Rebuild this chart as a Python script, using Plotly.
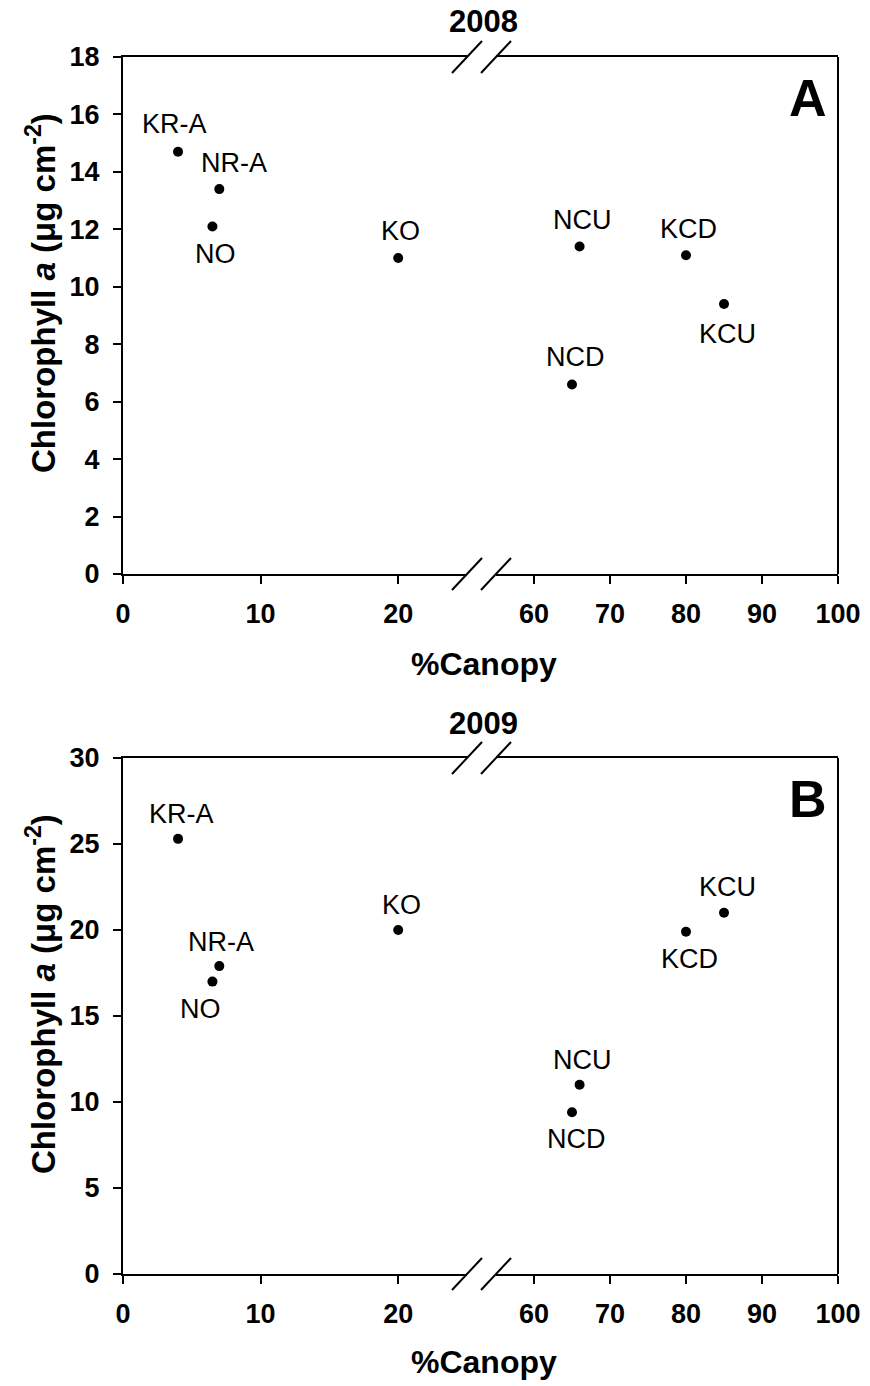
import plotly.graph_objects as go

# ---------------- data ----------------
sites = ["KR-A", "NR-A", "NO", "KO", "NCU", "NCD", "KCD", "KCU"]
canopy = [4, 7, 6.5, 20, 66, 65, 80, 85]
chl_2008 = [14.7, 13.4, 12.1, 11.0, 11.4, 6.6, 11.1, 9.4]
chl_2009 = [25.3, 17.9, 17.0, 20.0, 11.0, 9.4, 19.9, 21.0]
x_ticks_left = [0, 10, 20]
x_ticks_right = [60, 70, 80, 90, 100]

# label offsets (pixels) relative to each point: (dx, dy_up)
lab_off_2008 = [(-4, 28), (15, 26), (3, -28), (2, 27), (3, 27), (3, 27), (2, 26), (3, -30)]
lab_off_2009 = [(3, 25), (2, 24), (-12, -27), (3, 25), (3, 25), (4, -27), (3, -27), (3, 26)]

W, H = 870, 1386
FONT = "Liberation Sans, Arial, sans-serif"


def px(x):
    return x / W


def py(y):
    return 1 - y / H


XL = (123, 467)
XR = (496, 838)
panels = [
    dict(top=57, bot=574, vals=chl_2008, off=lab_off_2008, yr=[0, 18], dt=2,
         title="2008", letter="A", xl="x", xr="x2", y="y", letter_y=98, title_y=22, xt_y=664, yt_y=293),
    dict(top=758, bot=1274, vals=chl_2009, off=lab_off_2009, yr=[0, 30], dt=5,
         title="2009", letter="B", xl="x3", xr="x4", y="y2", letter_y=799, title_y=723, xt_y=1362, yt_y=994),
]

fig = go.Figure()
shapes = []
annotations = []

axis_common = dict(showline=True, linecolor="black", linewidth=2, ticks="outside", ticklen=8,
                   tickwidth=2, tickcolor="black", showgrid=False, zeroline=False, automargin=False,
                   tickfont=dict(family=FONT, size=27, color="black", weight="bold"))

for i, p in enumerate(panels):
    left = [(c, v, s, o) for c, v, s, o in zip(canopy, p["vals"], sites, p["off"]) if c <= 25]
    right = [(c, v, s, o) for c, v, s, o in zip(canopy, p["vals"], sites, p["off"]) if c >= 55]
    for grp, xa in ((left, p["xl"]), (right, p["xr"])):
        fig.add_trace(go.Scatter(x=[g[0] for g in grp], y=[g[1] for g in grp], mode="markers",
                                 marker=dict(color="black", size=10), xaxis=xa, yaxis=p["y"],
                                 showlegend=False, hoverinfo="skip"))
        for c, v, s, o in grp:
            annotations.append(dict(x=c, y=v, xref=xa, yref=p["y"], text=s, showarrow=False,
                                    xanchor="center", yanchor="middle",
                                    xshift=o[0], yshift=o[1],
                                    font=dict(family=FONT, size=27, color="black")))

    ydom = [py(p["bot"]), py(p["top"])]
    n = i * 2
    xl_name = "xaxis" if n == 0 else "xaxis%d" % (n + 1)
    xr_name = "xaxis%d" % (n + 2)
    y_name = "yaxis" if i == 0 else "yaxis2"
    fig.update_layout(**{
        xl_name: dict(domain=[px(XL[0]), px(XL[1])], range=[0, 25], anchor=p["y"], mirror=True,
                      tickvals=x_ticks_left, ticklabelstandoff=7, **axis_common),
        xr_name: dict(domain=[px(XR[0]), px(XR[1])], range=[55, 100], anchor=p["y"], mirror=True,
                      tickvals=x_ticks_right, ticklabelstandoff=7, **axis_common),
        y_name: dict(domain=ydom, range=p["yr"], dtick=p["dt"], anchor=p["xl"],
                     ticklabelstandoff=8, **axis_common),
    })
    # right frame line
    shapes.append(dict(type="line", xref="paper", yref="paper", x0=px(XR[1]), x1=px(XR[1]),
                       y0=py(p["bot"]), y1=py(p["top"]), line=dict(color="black", width=2)))
    # break marks top & bottom
    for yy in (p["top"], p["bot"]):
        for cx in (XL[1], XR[0]):
            shapes.append(dict(type="line", xref="paper", yref="paper",
                               x0=px(cx - 15), y0=py(yy + 16), x1=px(cx + 15), y1=py(yy - 16),
                               line=dict(color="black", width=2)))
    common_ann = dict(xref="paper", yref="paper", showarrow=False, xanchor="center", yanchor="middle")
    annotations.append(dict(x=px(483), y=py(p["title_y"]), text=p["title"],
                            font=dict(family=FONT, size=31, color="black", weight="bold"), **common_ann))
    annotations.append(dict(x=px(808), y=py(p["letter_y"]), text=p["letter"],
                            font=dict(family=FONT, size=52, color="black", weight="bold"), **common_ann))
    annotations.append(dict(x=px(484), y=py(p["xt_y"]), text="%Canopy",
                            font=dict(family=FONT, size=32, color="black", weight="bold"), **common_ann))
    annotations.append(dict(x=px(41), y=py(p["yt_y"]), textangle=-90,
                            text="Chlorophyll <i>a</i> (μg cm<sup>-2</sup>)",
                            font=dict(family=FONT, size=33, color="black", weight="bold"), **common_ann))

fig.update_layout(template="none", width=W, height=H, margin=dict(l=0, r=0, t=0, b=0, pad=0),
                  paper_bgcolor="white", plot_bgcolor="white",
                  shapes=shapes, annotations=annotations)

fig.write_html("out.html")
